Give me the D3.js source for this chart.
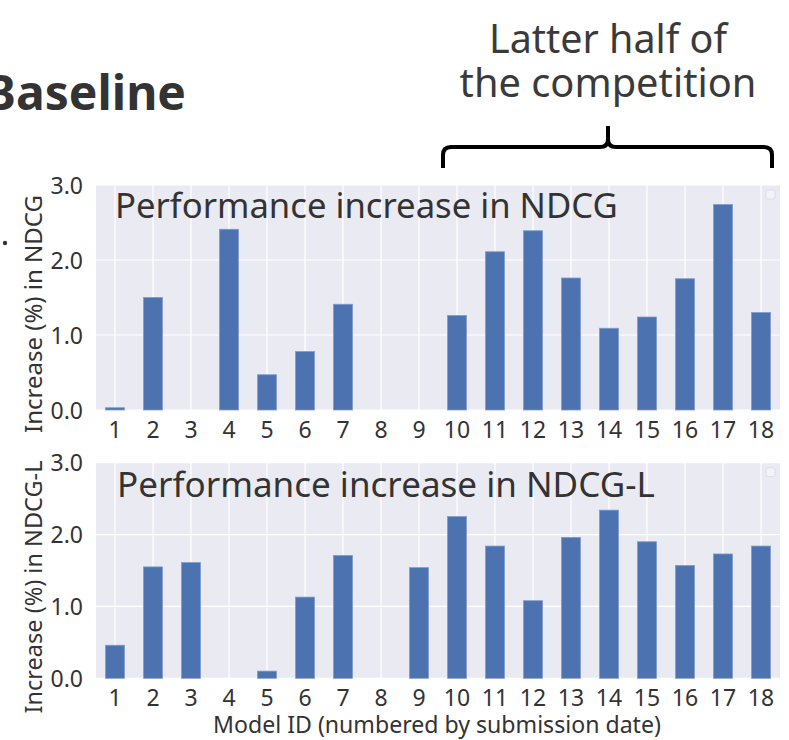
<!DOCTYPE html>
<html><head><meta charset="utf-8">
<script src="https://cdn.jsdelivr.net/npm/d3@7/dist/d3.min.js"></script>
<style>body{margin:0;background:#fff;} svg{display:block;}</style>
</head><body>
<svg id="c" width="789" height="740"></svg>
<script>
const modelIds = ["1","2","3","4","5","6","7","8","9","10","11","12","13","14","15","16","17","18"];
const ndcgIncrease  = [0.03,1.50,0,2.41,0.47,0.78,1.41,0,0,1.26,2.11,2.39,1.76,1.09,1.24,1.75,2.74,1.30];
const ndcgLIncrease = [0.46,1.55,1.61,0,0.10,1.13,1.71,0,1.54,2.25,1.84,1.08,1.96,2.34,1.90,1.57,1.73,1.84];
const yTicks = [0,1,2,3];
const panelTitles = ["Performance increase in NDCG","Performance increase in NDCG-L"];
const yLabels = ["Increase (%) in NDCG","Increase (%) in NDCG-L"];
const xLabel = "Model ID (numbered by submission date)";
const headerText = "Baseline";
const braceText = ["Latter half of","the competition"];

const svg = d3.select("#c");
const FONT = "'Noto Sans', 'Open Sans', sans-serif";
const textCol = "#333333";

function fitText(sel, targetW){
  const w = sel.node().getComputedTextLength();
  const fs = parseFloat(sel.attr("font-size"));
  sel.attr("font-size", fs*targetW/w);
}

const x = d3.scaleBand().domain(modelIds).range([96,780]).padding(0);

const panels = [
  {vals: ndcgIncrease, y0: 410, y1: 185, title: panelTitles[0], titleX:115, titleY:218, titleW:503, ylab: yLabels[0], ylabC:314, ylabLen:238, tickY:438},
  {vals: ndcgLIncrease, y0: 678.3, y1: 462.7, title: panelTitles[1], titleX:117, titleY:497, titleW:538, ylab: yLabels[1], ylabC:587, ylabLen:253, tickY:706}
];

panels.forEach(p=>{
  const y = d3.scaleLinear().domain([0,3]).range([p.y0,p.y1]);
  const g = svg.append("g");
  g.append("rect").attr("x",x.range()[0]).attr("y",p.y1)
    .attr("width",x.range()[1]-x.range()[0]).attr("height",p.y0-p.y1).attr("fill","#EAEAF2");
  g.selectAll(".hg").data(yTicks).join("line")
    .attr("x1",x.range()[0]).attr("x2",x.range()[1])
    .attr("y1",d=>y(d)).attr("y2",d=>y(d)).attr("stroke","#fff").attr("stroke-width",1.2);
  g.selectAll(".vg").data(modelIds).join("line")
    .attr("x1",d=>x(d)+x.bandwidth()/2).attr("x2",d=>x(d)+x.bandwidth()/2)
    .attr("y1",p.y0).attr("y2",p.y1).attr("stroke","#fff").attr("stroke-width",1.2);
  const bw = x.bandwidth()*0.5;
  g.selectAll(".bar").data(p.vals.map((v,i)=>({id:modelIds[i],v})).filter(d=>d.v>0)).join("rect")
    .attr("x",d=>x(d.id)+x.bandwidth()/2-bw/2).attr("width",bw)
    .attr("y",d=>y(d.v)).attr("height",d=>y(0)-y(d.v))
    .attr("fill","#4C72B0").attr("stroke","#7f9bcc").attr("stroke-width",0.8);
  const ya = d3.axisLeft(y).tickValues(yTicks).tickFormat(d3.format(".1f")).tickSize(0).tickPadding(0);
  const yg = g.append("g").attr("transform","translate(83,0)").call(ya);
  yg.select(".domain").remove();
  yg.selectAll("text").attr("font-family",FONT).attr("font-size",23).attr("fill",textCol).attr("dy","0.36em");
  const xa = d3.axisBottom(x).tickSize(0).tickPadding(0);
  const xg = g.append("g").attr("transform",`translate(0,${p.tickY})`).call(xa);
  xg.select(".domain").remove();
  xg.selectAll("text").attr("font-family",FONT).attr("font-size",23).attr("fill",textCol).attr("dy","0");
  const t = g.append("text").attr("x",p.titleX).attr("y",p.titleY).attr("font-family",FONT)
    .attr("font-size",34).attr("fill",textCol).text(p.title);
  fitText(t,p.titleW);
  const yl = g.append("text").attr("transform",`translate(42,${p.ylabC}) rotate(-90)`)
    .attr("text-anchor","middle").attr("font-family",FONT).attr("font-size",19).attr("fill",textCol).text(p.ylab);
  fitText(yl,p.ylabLen);
  g.append("rect").attr("x",766).attr("y",p.y1+5).attr("width",9).attr("height",9).attr("rx",2)
    .attr("fill","#f2f2f7").attr("stroke","#d8d8e0").attr("stroke-width",0.8);
});

const xl = svg.append("text").attr("x",437).attr("y",733).attr("text-anchor","middle")
  .attr("font-family",FONT).attr("font-size",19).attr("fill",textCol).text(xLabel);
fitText(xl,448);

svg.append("text").attr("x",186).attr("y",110).attr("text-anchor","end")
  .attr("font-family",FONT).attr("font-weight","bold").attr("font-size",48).attr("fill","#333").text(headerText);
svg.append("circle").attr("cx",5).attr("cy",243).attr("r",2.2).attr("fill","#333");

const b1 = svg.append("text").attr("x",608).attr("y",53).attr("text-anchor","middle")
  .attr("font-family",FONT).attr("font-size",36).attr("fill","#3a3a3a").text(braceText[0]);
fitText(b1,238);
const b2 = svg.append("text").attr("x",608).attr("y",97).attr("text-anchor","middle")
  .attr("font-family",FONT).attr("font-size",36).attr("fill","#3a3a3a").text(braceText[1]);
fitText(b2,297);

const L = 443, R = 772, M = 608, yb = 168, yh = 147, yt = 126, r = 8;
const path = `M${L},${yb} L${L},${yh+r} Q${L},${yh} ${L+r},${yh} L${M-r},${yh} Q${M},${yh} ${M},${yh-r} L${M},${yt} M${M},${yh-r} Q${M},${yh} ${M+r},${yh} L${R-r},${yh} Q${R},${yh} ${R},${yh+r} L${R},${yb}`;
svg.append("path").attr("d",path).attr("fill","none").attr("stroke","#000").attr("stroke-width",4);
</script>
</body></html>
